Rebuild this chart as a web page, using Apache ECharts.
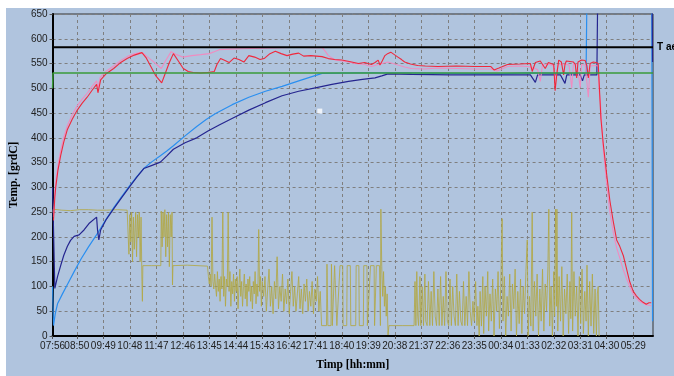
<!DOCTYPE html>
<html><head><meta charset="utf-8">
<script src="https://cdn.jsdelivr.net/npm/echarts@6/dist/echarts.min.js"></script>
<style>html,body{margin:0;padding:0;background:#fff;}#c{width:674px;height:376px;}</style>
</head><body><div id="c"></div>
<script>
// x values: minutes elapsed since 07:56 ; y values: temperature [grdC]
const startTime = '07:56';
const tickLabels = ['07:56','08:50','09:49','10:48','11:47','12:46','13:45','14:44','15:43','16:42','17:41','18:40','19:39','20:38','21:37','22:36','23:35','00:34','01:33','02:32','03:31','04:30','05:29'];
const yTicks = [0,50,100,150,200,250,300,350,400,450,500,550,600,650];
const xMaxMinutes = 1337;

const tAer = [[0,583],[1337,583]];
const setPoint = [[0,500],[1,531],[1337,531]];

const redTemp = [[2,233],[5,280],[7,300],[12,335],[18,364],[25,392],[33,417],[44,438],[55,456],[66,470],[77,482],[88,496],[98,508],[101,491],[107,517],[120,530],[136,540],[150,551],[166,560],[182,567],[199,572],[208,562],[217,547],[230,525],[243,511],[250,528],[260,552],[269,570],[280,555],[291,540],[302,534],[313,532],[330,531],[345,532],[360,534],[366,548],[374,560],[384,556],[393,552],[404,561],[415,558],[426,553],[437,566],[450,563],[462,558],[471,560],[484,570],[496,575],[509,570],[522,566],[535,569],[548,571],[559,565],[575,566],[600,564],[614,560],[628,558],[644,557],[655,555],[666,553],[681,550],[695,552],[710,548],[718,552],[725,557],[729,547],[734,555],[740,566],[746,570],[753,573],[761,568],[769,563],[777,558],[784,553],[797,549],[813,546],[830,545],[858,544],[900,545],[940,544],[976,544],[983,537],[994,541],[1013,548],[1040,549],[1064,550],[1068,534],[1075,552],[1086,555],[1097,540],[1104,552],[1108,556],[1116,548],[1119,495],[1123,530],[1127,557],[1133,553],[1138,527],[1141,548],[1144,555],[1152,554],[1160,553],[1164,548],[1167,521],[1170,553],[1178,557],[1186,556],[1190,545],[1193,521],[1197,550],[1204,553],[1210,552],[1215,550],[1221,439],[1226,390],[1234,325],[1241,273],[1248,234],[1256,194],[1263,181],[1271,162],[1278,136],[1285,110],[1293,90],[1300,81],[1307,74],[1315,68],[1322,64],[1328,67],[1333,67]];

const pinkTemp = [[2,240],[5,290],[7,310],[12,345],[18,375],[25,402],[33,425],[44,447],[55,465],[66,478],[77,490],[88,504],[98,515],[101,500],[106,522],[120,535],[136,545],[150,555],[166,564],[180,569],[194,572],[201,571],[212,563],[223,555],[233,547],[242,540],[252,556],[264,574],[276,568],[290,563],[310,566],[330,568],[349,570],[360,574],[371,578],[395,579],[423,580],[467,581],[510,582],[548,583],[575,582],[600,582],[607,575],[614,566],[629,557],[644,555],[659,553],[673,550],[695,548],[710,544],[725,548],[747,553],[758,550],[769,547],[784,543],[799,540],[828,539],[858,541],[900,540],[940,539],[976,539],[990,535],[1013,544],[1040,545],[1057,544],[1064,543],[1080,538],[1086,514],[1091,548],[1105,549],[1116,545],[1119,515],[1126,548],[1140,549],[1150,547],[1156,501],[1160,550],[1168,548],[1175,501],[1178,548],[1186,547],[1193,482],[1197,545],[1208,546],[1215,545],[1217,495],[1220,470],[1226,380],[1234,305],[1241,250],[1249,207],[1256,178],[1264,155],[1271,133],[1278,116],[1286,98],[1293,84],[1300,76],[1307,70],[1315,66],[1322,63],[1333,61]];

const lightBlueTemp = [[0,100],[2,21],[6,45],[11,65],[22,85],[33,104],[48,130],[63,155],[80,180],[100,207],[118,234],[137,260],[155,283],[173,305],[188,322],[203,338],[220,351],[240,364],[255,374],[269,384],[295,404],[321,423],[342,437],[363,449],[400,467],[437,482],[474,494],[511,504],[555,517],[600,530],[680,531],[777,531],[887,530],[998,529],[1060,531],[1131,530],[1188,530],[1190,700],[1334,700],[1335,430],[1336,30]];

const navyTemp = [[0,300],[5,96],[11,120],[18,142],[25,163],[33,181],[40,193],[48,201],[59,204],[70,214],[81,227],[98,240],[100,215],[103,194],[107,214],[120,236],[137,258],[155,281],[173,303],[188,321],[203,338],[220,344],[240,351],[255,364],[269,377],[295,390],[321,400],[346,414],[371,426],[404,441],[437,456],[474,471],[511,485],[548,494],[585,501],[622,508],[659,514],[690,518],[718,521],[733,525],[747,529],[800,528],[887,527],[960,527],[1064,527],[1075,512],[1080,527],[1131,527],[1141,510],[1145,527],[1175,527],[1180,515],[1184,527],[1212,527],[1214,700],[1335,700],[1336,553]];

const powerSignal = [[0,250],[1,256],[20,254],[40,253],[60,255],[80,255],[100,254],[120,254],[145,255],[166,254],[168,250],[170,165],[172,245],[174,190],[176,250],[178,150],[180,240],[182,175],[185,250],[187,160],[189,245],[191,200],[193,250],[195,150],[197,240],[199,110],[200,70],[201,142],[220,142],[241,142],[242,252],[244,180],[246,250],[248,200],[250,255],[252,160],[254,245],[256,180],[258,250],[260,140],[262,245],[264,200],[266,250],[267,103],[268,142],[300,143],[345,141],[347,120],[349,105],[351,125],[353,100],[355,240],[357,110],[359,95],[361,125],[363,100],[365,80],[367,130],[369,90],[371,115],[373,70],[375,120],[377,95],[379,250],[381,80],[383,120],[385,60],[387,115],[389,100],[391,250],[393,90],[395,130],[397,60],[399,110],[401,85],[403,125],[405,70],[407,115],[409,90],[411,120],[413,55],[415,100],[417,135],[419,80],[421,110],[423,60],[425,100],[427,125],[429,75],[431,105],[433,60],[435,115],[437,90],[439,120],[441,70],[443,100],[445,55],[447,110],[449,85],[451,130],[453,65],[455,105],[457,80],[459,215],[461,90],[463,120],[465,60],[467,110],[470,80],[473,120],[476,50],[479,95],[482,135],[485,60],[488,100],[491,45],[494,110],[497,75],[500,160],[503,55],[506,100],[509,70],[512,125],[515,50],[518,95],[521,65],[524,115],[527,45],[530,90],[533,130],[536,60],[539,100],[542,50],[545,85],[548,120],[551,55],[554,95],[557,45],[560,105],[563,70],[566,115],[569,50],[572,90],[575,60],[578,110],[581,45],[584,95],[587,70],[590,120],[593,50],[596,90],[599,21],[610,21],[611,145],[613,21],[620,21],[621,145],[623,21],[628,142],[632,142],[633,21],[640,142],[646,142],[647,21],[655,21],[656,142],[663,142],[664,21],[675,21],[676,142],[682,142],[683,21],[692,21],[693,142],[700,142],[701,21],[708,142],[716,142],[717,21],[721,142],[728,142],[730,21],[731,256],[733,140],[735,80],[737,130],[739,60],[741,100],[743,40],[745,85],[747,2],[749,21],[780,21],[805,21],[807,110],[809,21],[811,130],[813,40],[815,21],[818,120],[820,21],[823,100],[826,21],[829,125],[831,30],[834,21],[837,110],[840,21],[843,90],[846,21],[849,130],[852,40],[855,21],[858,95],[861,21],[864,120],[867,21],[870,80],[873,21],[876,130],[879,30],[882,21],[885,115],[888,21],[891,100],[894,40],[897,21],[900,125],[903,21],[906,90],[909,30],[912,21],[915,110],[918,21],[921,80],[924,21],[927,130],[930,50],[933,21],[936,70],[939,30],[942,110],[945,21],[947,60],[950,0],[952,90],[955,20],[958,120],[960,5],[963,100],[966,40],[969,130],[971,10],[974,85],[977,30],[980,115],[983,0],[986,95],[989,50],[992,130],[995,15],[998,100],[1001,237],[1003,30],[1006,120],[1009,0],[1012,80],[1015,40],[1018,125],[1021,10],[1024,105],[1027,55],[1030,135],[1033,0],[1036,90],[1039,25],[1042,115],[1045,5],[1048,100],[1051,45],[1054,130],[1057,194],[1059,0],[1062,80],[1065,20],[1068,250],[1070,10],[1073,110],[1076,40],[1079,125],[1082,0],[1085,95],[1088,30],[1091,135],[1094,10],[1097,105],[1100,50],[1103,140],[1105,256],[1107,20],[1110,100],[1113,0],[1116,130],[1118,40],[1120,256],[1122,60],[1123,256],[1125,10],[1128,120],[1131,30],[1134,140],[1137,0],[1140,95],[1143,45],[1146,125],[1149,5],[1152,110],[1154,35],[1156,250],[1158,10],[1161,130],[1164,40],[1167,100],[1170,0],[1173,120],[1176,25],[1179,135],[1182,5],[1185,90],[1188,30],[1190,143],[1193,0],[1196,110],[1199,20],[1202,125],[1205,5],[1208,95],[1211,0],[1213,85],[1215,100],[1217,0]];

const cursorMark = [[595,454]];

function toMinutes(lbl){
  const p = lbl.split(':'), s = startTime.split(':');
  return ((+p[0]*60 + +p[1]) - (+s[0]*60 + +s[1]) + 1440) % 1440;
}
const tickMinutes = tickLabels.map(toMinutes);
const labelOf = {};
tickLabels.forEach((l,i)=>{ labelOf[tickMinutes[i]] = l; });
const firstTick = tickMinutes.slice(0,1);
const otherTicks = tickMinutes.slice(1);

const font = 'Liberation Sans, Arial, sans-serif';
const titleFont = 'Liberation Serif, Times New Roman, serif';
const chart = echarts.init(document.getElementById('c'), null, {renderer:'canvas'});
function line(name, data, color, width, z, extra){
  return Object.assign({type:'line', name, data, showSymbol:false, symbol:'none', clip:true,
    lineStyle:{color, width}, itemStyle:{color}, z, animation:false}, extra||{});
}
const labelStyle = {interval:0, formatter:v=>labelOf[v]||'', showMinLabel:true, showMaxLabel:true, margin:5, fontFamily:font, fontSize:10, color:'#222', hideOverlap:false};
chart.setOption({
  animation:false,
  backgroundColor:'#ffffff',
  graphic:[{type:'rect', shape:{x:6,y:8,width:668,height:368}, style:{fill:'#b0c4de'}, z:-100, silent:true}],
  grid:{left:49, top:14, width:604, height:332, show:true, borderColor:'#333', borderWidth:1, backgroundColor:'transparent'},
  xAxis:[{type:'value', min:0, max:xMaxMinutes, position:'bottom',
    name:'Timp [hh:mm]', nameLocation:'middle', nameGap:23,
    nameTextStyle:{fontFamily:titleFont, fontSize:11.5, fontWeight:'bold', color:'#000'},
    axisLine:{show:true, lineStyle:{color:'#000', width:2}},
    axisTick:{show:true, length:3, customValues:tickMinutes, lineStyle:{color:'#555'}},
    axisLabel:Object.assign({customValues:otherTicks}, labelStyle),
    splitLine:{show:true, lineStyle:{color:'#7f7f7f', type:[3,3], width:1}}
  },{type:'value', min:0, max:xMaxMinutes, position:'bottom', offset:0,
    axisLine:{show:false}, axisTick:{show:false}, splitLine:{show:false},
    axisLabel:Object.assign({customValues:firstTick}, labelStyle)
  }],
  yAxis:{type:'value', min:0, max:650, interval:50,
    name:'Temp. [grdC]', nameLocation:'middle', nameGap:29,
    nameTextStyle:{fontFamily:titleFont, fontSize:11.5, fontWeight:'bold', color:'#000'},
    axisLine:{show:true, lineStyle:{color:'#000', width:2}},
    axisTick:{show:true, length:3, lineStyle:{color:'#555'}},
    axisLabel:{margin:5, fontFamily:font, fontSize:10, color:'#222', formatter:v=>yTicks.includes(v)?String(v):''},
    splitLine:{show:true, lineStyle:{color:'#7f7f7f', type:[3,3], width:1}}
  },
  series:[
    line('Putere', powerSignal, 'rgba(178,168,70,0.85)', 1, 2),
    line('T2', lightBlueTemp, '#2a8ff0', 1.2, 3),
    line('T1', navyTemp, '#25258f', 1.2, 4),
    line('T cuptor 2', pinkTemp, '#f08cc0', 1.1, 5),
    line('T cuptor 1', redTemp, '#f0283c', 1.1, 6),
    line('T consemn', setPoint, '#3a9a3a', 1.5, 7),
    line('T aer', tAer, '#000000', 2, 8, {endLabel:{show:true, formatter:'T aer', distance:4, fontFamily:font, fontSize:10, fontWeight:'bold', color:'#000'}}),
    {type:'scatter', data:cursorMark, symbol:'rect', symbolSize:5, itemStyle:{color:'#ffffff'}, z:9, animation:false}
  ]
});
</script></body></html>
